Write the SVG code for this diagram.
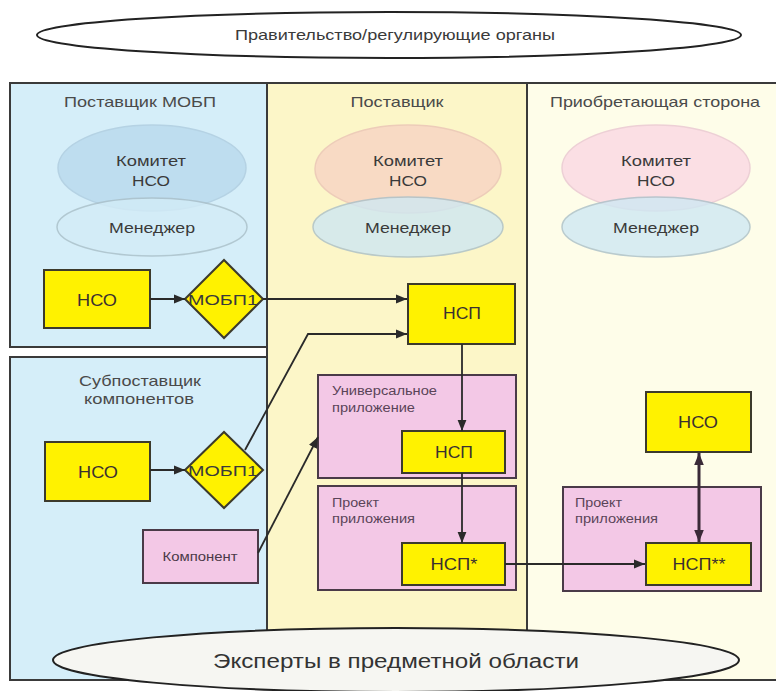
<svg xmlns="http://www.w3.org/2000/svg" width="776" height="691" viewBox="0 0 776 691">
<defs>
<style>
text{font-family:"Liberation Sans",Arial,sans-serif;fill:#3a3a3a;text-anchor:middle}
.hdr{font-size:15px;fill:#4a4a4a}
.ell{font-size:15px;fill:#3a3a3a}
.box{font-size:16px;fill:#3a3030}
.sm{font-size:12.5px;fill:#5a4458;text-anchor:start}
.yb{fill:#fff200;stroke:#3c3a2c;stroke-width:2}
.pk{fill:#f3c8e6;stroke:#4a3a48;stroke-width:2}
.ln{fill:none;stroke:#2a2a2a;stroke-width:1.8}
</style>
<marker id="ah" viewBox="0 0 10 10" refX="10" refY="5" markerWidth="11" markerHeight="11" markerUnits="userSpaceOnUse" orient="auto">
<path d="M0,1 L10,5 L0,9 Z" fill="#2a2a2a"/>
</marker>
<marker id="ah2" viewBox="0 0 10 10" refX="10" refY="5" markerWidth="12" markerHeight="12" markerUnits="userSpaceOnUse" orient="auto-start-reverse">
<path d="M0,1 L10,5 L0,9 Z" fill="#3a2a38"/>
</marker>
</defs>
<rect width="776" height="691" fill="#ffffff"/>

<g id="government">
<ellipse cx="389" cy="35" rx="352" ry="23" fill="#ffffff" stroke="#222" stroke-width="2"/>
<text x="395" y="40" style="font-size:14.5px" textLength="320" lengthAdjust="spacingAndGlyphs">Правительство/регулирующие органы</text>
</g>

<g id="columns">
<rect x="267" y="83" width="260" height="597" fill="#fcf6c8" stroke="#3a3a3a" stroke-width="2"/>
<rect x="527" y="83" width="260" height="597" fill="#fefde9" stroke="#3a3a3a" stroke-width="2"/>
<rect x="10" y="83" width="257" height="264" fill="#d5eef9" stroke="#3a3a3a" stroke-width="2"/>
<rect x="10" y="357" width="257" height="323" fill="#d5eef9" stroke="#3a3a3a" stroke-width="2"/>
</g>

<g id="mobp-supplier">
<text class="hdr" x="140" y="107" textLength="152" lengthAdjust="spacingAndGlyphs">Поставщик МОБП</text>
<ellipse cx="152" cy="168" rx="94" ry="43" fill="#bcdcee" stroke="#b2d0e2" stroke-width="1.5" opacity="0.9"/>
<ellipse cx="152" cy="227" rx="95" ry="29" fill="#d3ecf7" stroke="#a9bfc8" stroke-width="1.5" opacity="0.8"/>
<text class="ell" x="151" y="166" textLength="70" lengthAdjust="spacingAndGlyphs">Комитет</text>
<text class="ell" x="151" y="186" textLength="38" lengthAdjust="spacingAndGlyphs">НСО</text>
<text class="ell" x="152" y="233" textLength="86" lengthAdjust="spacingAndGlyphs">Менеджер</text>
</g>
<g id="nso-1">
<rect class="yb" x="44" y="270" width="106" height="58"/>
<text class="box" x="97" y="306" textLength="40" lengthAdjust="spacingAndGlyphs">НСО</text>
</g>
<g id="mobp1-1">
<polygon class="yb" points="185,299 224,260 263,299 224,338"/>
<text class="ell" x="223" y="305" textLength="70" lengthAdjust="spacingAndGlyphs">МОБП1</text>
</g>

<g id="component-subsupplier">
<text class="hdr" x="140" y="386" textLength="122" lengthAdjust="spacingAndGlyphs">Субпоставщик</text>
<text class="hdr" x="139" y="404" textLength="110" lengthAdjust="spacingAndGlyphs">компонентов</text>
</g>
<g id="nso-2">
<rect class="yb" x="45" y="442" width="105" height="59"/>
<text class="box" x="98" y="478" textLength="40" lengthAdjust="spacingAndGlyphs">НСО</text>
</g>
<g id="mobp1-2">
<polygon class="yb" points="185,470 224,432 263,470 224,508"/>
<text class="ell" x="223" y="476" textLength="70" lengthAdjust="spacingAndGlyphs">МОБП1</text>
</g>
<g id="component">
<rect class="pk" x="143" y="530" width="115" height="53"/>
<text x="200" y="561" style="font-size:12px;fill:#4a3a48" textLength="75" lengthAdjust="spacingAndGlyphs">Компонент</text>
</g>

<g id="supplier">
<text class="hdr" x="397" y="107" textLength="93" lengthAdjust="spacingAndGlyphs">Поставщик</text>
<ellipse cx="408" cy="169" rx="93" ry="44" fill="#f8d8c4" stroke="#ecc8b8" stroke-width="1.5" opacity="0.9"/>
<ellipse cx="408" cy="227" rx="95" ry="30" fill="#cfe8f3" stroke="#a9bfc8" stroke-width="1.5" opacity="0.8"/>
<text class="ell" x="408" y="166" textLength="70" lengthAdjust="spacingAndGlyphs">Комитет</text>
<text class="ell" x="408" y="186" textLength="38" lengthAdjust="spacingAndGlyphs">НСО</text>
<text class="ell" x="408" y="233" textLength="86" lengthAdjust="spacingAndGlyphs">Менеджер</text>
</g>
<g id="nsp-top">
<rect class="yb" x="408" y="284" width="107" height="60"/>
<text class="box" x="462" y="319" textLength="38" lengthAdjust="spacingAndGlyphs">НСП</text>
</g>
<g id="universal-app">
<rect class="pk" x="318" y="375" width="198" height="103"/>
<text class="sm" x="332" y="395" textLength="105" lengthAdjust="spacingAndGlyphs">Универсальное</text>
<text class="sm" x="332" y="412" textLength="83" lengthAdjust="spacingAndGlyphs">приложение</text>
</g>
<g id="nsp-universal">
<rect class="yb" x="402" y="431" width="103" height="42"/>
<text class="box" x="454" y="458" textLength="38" lengthAdjust="spacingAndGlyphs">НСП</text>
</g>
<g id="app-project-supplier">
<rect class="pk" x="318" y="486" width="198" height="104"/>
<text class="sm" x="332" y="507" textLength="47" lengthAdjust="spacingAndGlyphs">Проект</text>
<text class="sm" x="332" y="523" textLength="83" lengthAdjust="spacingAndGlyphs">приложения</text>
</g>
<g id="nsp-star">
<rect class="yb" x="402" y="543" width="103" height="42"/>
<text class="box" x="454" y="570" textLength="47" lengthAdjust="spacingAndGlyphs">НСП*</text>
</g>

<g id="acquirer">
<text class="hdr" x="655" y="107" textLength="210" lengthAdjust="spacingAndGlyphs">Приобретающая сторона</text>
<ellipse cx="656" cy="168" rx="94" ry="43" fill="#fbdce4" stroke="#ecccd4" stroke-width="1.5" opacity="0.9"/>
<ellipse cx="656" cy="227" rx="94" ry="30" fill="#cfe8f3" stroke="#a9bfc8" stroke-width="1.5" opacity="0.8"/>
<text class="ell" x="656" y="166" textLength="70" lengthAdjust="spacingAndGlyphs">Комитет</text>
<text class="ell" x="656" y="186" textLength="38" lengthAdjust="spacingAndGlyphs">НСО</text>
<text class="ell" x="656" y="233" textLength="86" lengthAdjust="spacingAndGlyphs">Менеджер</text>
</g>
<g id="nso-acquirer">
<rect class="yb" x="646" y="392" width="105" height="60"/>
<text class="box" x="698" y="428" textLength="40" lengthAdjust="spacingAndGlyphs">НСО</text>
</g>
<g id="app-project-acquirer">
<rect class="pk" x="563" y="487" width="198" height="104"/>
<text class="sm" x="575" y="507" textLength="47" lengthAdjust="spacingAndGlyphs">Проект</text>
<text class="sm" x="575" y="523" textLength="83" lengthAdjust="spacingAndGlyphs">приложения</text>
</g>
<g id="nsp-2star">
<rect class="yb" x="646" y="543" width="105" height="42"/>
<text class="box" x="699" y="570" textLength="53" lengthAdjust="spacingAndGlyphs">НСП**</text>
</g>

<g id="connectors">
<line class="ln" x1="150" y1="299" x2="185" y2="299" marker-end="url(#ah)"/>
<line class="ln" x1="150" y1="470" x2="185" y2="470" marker-end="url(#ah)"/>
<line class="ln" x1="263" y1="299" x2="407" y2="299" marker-end="url(#ah)"/>
<polyline class="ln" points="245,450 308,334 407,334" marker-end="url(#ah)"/>
<line class="ln" x1="258" y1="553" x2="318" y2="437" marker-end="url(#ah)"/>
<line class="ln" x1="462" y1="344" x2="462" y2="431" marker-end="url(#ah)"/>
<line class="ln" x1="462" y1="473" x2="462" y2="543" marker-end="url(#ah)"/>
<line class="ln" x1="505" y1="564" x2="645" y2="564" marker-end="url(#ah)"/>
<line x1="699" y1="453" x2="699" y2="542" stroke="#3a2a38" stroke-width="3" marker-start="url(#ah2)" marker-end="url(#ah2)"/>
</g>

<g id="experts">
<ellipse cx="396" cy="660" rx="343" ry="32" fill="#f6f6f2" stroke="#222" stroke-width="2"/>
<text x="396" y="668" style="font-size:20px;fill:#333" textLength="366" lengthAdjust="spacingAndGlyphs">Эксперты в предметной области</text>
</g>
</svg>
